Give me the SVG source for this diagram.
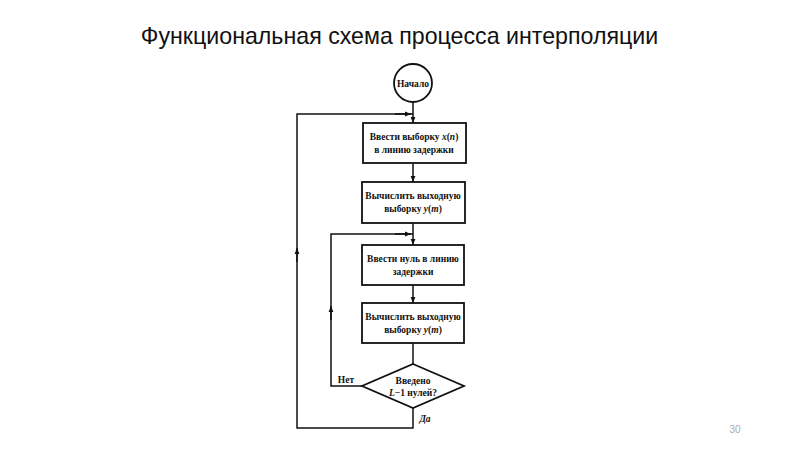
<svg xmlns="http://www.w3.org/2000/svg" width="800" height="450" viewBox="0 0 800 450">
<defs>
<marker id="ah" viewBox="0 0 10 10" refX="10" refY="5" markerWidth="6" markerHeight="6" orient="auto" markerUnits="userSpaceOnUse">
<path d="M0,1 L10,5 L0,9 z" fill="#111"/>
</marker>
</defs>
<style>
.n{fill:#fff;stroke:#111;stroke-width:1.8}
.c{fill:none;stroke:#111;stroke-width:1.5}
.t{font-family:"Liberation Serif",serif;font-weight:bold;font-size:9.5px;fill:#111;text-anchor:middle}
.i{font-style:italic}
.title{font-family:"Liberation Sans",Arial,sans-serif;font-size:23.2px;fill:#111;text-anchor:middle}
</style>
<rect width="800" height="450" fill="#fff"/>
<text class="title" x="399.5" y="44">Функциональная схема процесса интерполяции</text>
<text x="735" y="433" font-family="Liberation Sans,sans-serif" font-size="10" fill="#aaa" text-anchor="middle">30</text>
<g id="connectors">
<line class="c" x1="413" y1="102" x2="413" y2="123" marker-end="url(#ah)"/>
<line class="c" x1="413" y1="163" x2="413" y2="182" marker-end="url(#ah)"/>
<line class="c" x1="413" y1="223" x2="413" y2="245" marker-end="url(#ah)"/>
<line class="c" x1="413" y1="285" x2="413" y2="303" marker-end="url(#ah)"/>
<line class="c" x1="413" y1="343" x2="413" y2="364"/>
<polyline class="c" points="362,386 331,386 331,234 413,234"/>
<line class="c" x1="331" y1="320" x2="331" y2="306" marker-end="url(#ah)"/>
<line class="c" x1="395" y1="234" x2="411" y2="234" marker-end="url(#ah)"/>
<polyline class="c" points="413,408 413,428 297,428 297,114 413,114"/>
<line class="c" x1="297" y1="262" x2="297" y2="248" marker-end="url(#ah)"/>
<line class="c" x1="395" y1="114" x2="411" y2="114" marker-end="url(#ah)"/>
<text class="t" x="346" y="383">Нет</text>
<text class="t i" x="425" y="422">Да</text>
</g>
<g id="start">
<circle class="n" cx="413" cy="83" r="19"/>
<text class="t" x="413" y="86.5">Начало</text>
</g>
<g id="box1">
<rect class="n" x="363" y="123" width="103" height="40"/>
<text class="t" x="414" y="140">Ввести выборку <tspan class="i">x</tspan>(<tspan class="i">n</tspan>)</text>
<text class="t" x="414" y="153">в линию задержки</text>
</g>
<g id="box2">
<rect class="n" x="362" y="182" width="103" height="41"/>
<text class="t" x="413" y="199">Вычислить выходную</text>
<text class="t" x="413" y="212">выборку <tspan class="i">y</tspan>(<tspan class="i">m</tspan>)</text>
</g>
<g id="box3">
<rect class="n" x="362" y="245" width="102" height="40"/>
<text class="t" x="413" y="262">Ввести нуль в линию</text>
<text class="t" x="413" y="275">задержки</text>
</g>
<g id="box4">
<rect class="n" x="362" y="303" width="102" height="40"/>
<text class="t" x="413" y="320">Вычислить выходную</text>
<text class="t" x="413" y="333">выборку <tspan class="i">y</tspan>(<tspan class="i">m</tspan>)</text>
</g>
<g id="decision">
<polygon class="n" points="413,364 464,386 413,408 362,386"/>
<text class="t" x="413" y="384">Введено</text>
<text class="t" x="413" y="396"><tspan class="i">L</tspan>−1 нулей?</text>
</g>
</svg>
